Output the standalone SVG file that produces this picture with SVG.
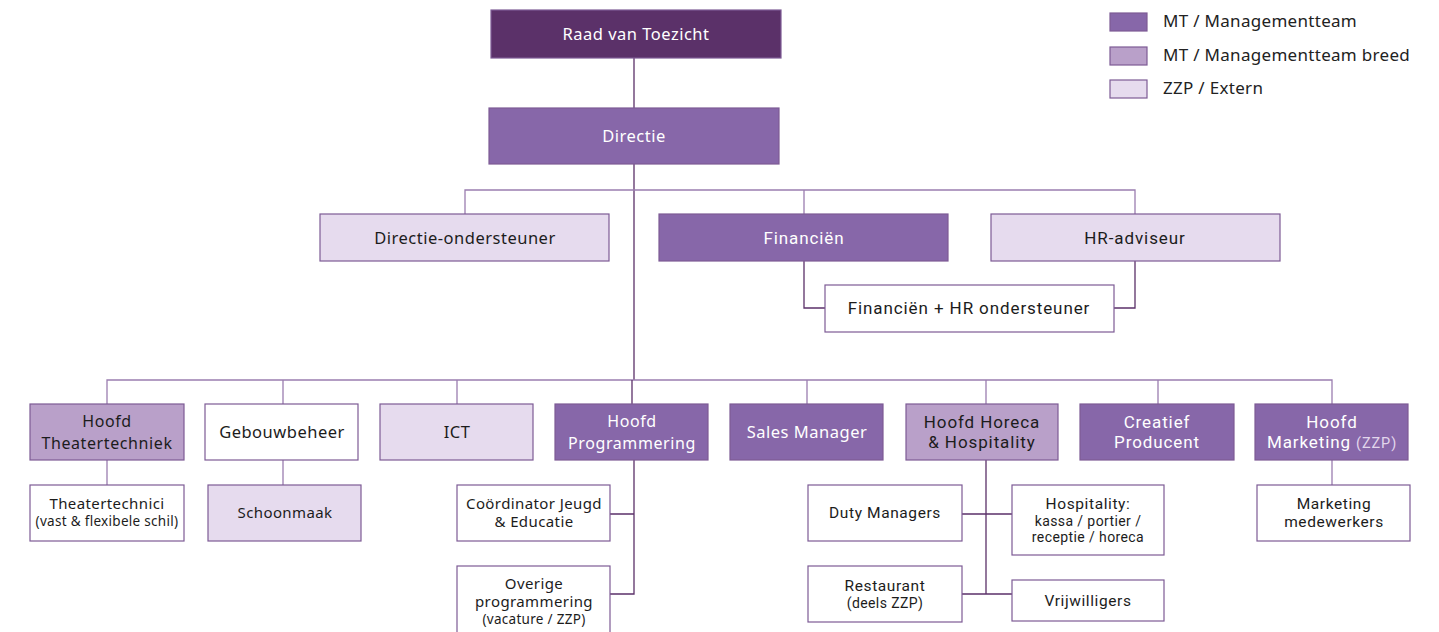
<svg xmlns="http://www.w3.org/2000/svg" width="1439" height="632" viewBox="0 0 1439 632">
<style>
.b{stroke:#7d5b95;stroke-width:1.2}
.d{fill:#8767a9}
.m{fill:#b9a0c9}
.l{fill:#e6dbee}
.w{fill:#ffffff}
.x{fill:#5b3169}
text{font-family:"Noto Sans","Open Sans",sans-serif;font-size:16.5px;letter-spacing:0.5px;text-anchor:middle;fill:#1c1c1c}
.t{fill:#ffffff}
.two{font-size:16px;letter-spacing:0.6px}
.s{font-size:15px;letter-spacing:0.4px}
.ss{font-size:13.5px;letter-spacing:0.3px}
.c{font-family:Roboto,"Liberation Sans",sans-serif;font-size:17px;letter-spacing:0.9px}
.c.s{font-size:15.5px;letter-spacing:0.6px}
.c.ss{font-size:14px;letter-spacing:0.4px}
.lg{text-anchor:start;font-size:17px;letter-spacing:0.3px;fill:#222}
.ln{fill:none;stroke:#9b7db0;stroke-width:1.3}
.tr{fill:none;stroke:#5b3169;stroke-width:1.3}
</style>
<rect width="1439" height="632" fill="#ffffff"/>
<g id="connectors">
<path class="tr" d="M634 58V108M634 164V380"/>
<path class="ln" d="M465 214V190H1135V214M804 190V214"/>
<path class="tr" d="M804 261V308H825M1135 261V308H1114"/>
<path class="ln" d="M107 404V380H1332V404M283 380V404M457 380V404M807 380V404M986 380V404M1158 380V404"/>
<path class="tr" d="M632 380V404"/>
<path class="ln" d="M107 460V485M283 460V485M1332 460V485"/>
<path class="tr" d="M634 460V594H610M610 514H634"/>
<path class="tr" d="M986 460V594M962 514H1012M962 594H1012"/>
</g>
<g id="raad"><rect class="b x" x="491" y="10" width="290" height="48"/><text class="t" x="636" y="40">Raad van Toezicht</text></g>
<g id="directie"><rect class="b d" x="489" y="108" width="290" height="56"/><text class="t" x="634" y="142">Directie</text></g>
<g id="directie-ondersteuner"><rect class="b l" x="320" y="214" width="289" height="47"/><text x="465" y="244">Directie-ondersteuner</text></g>
<g id="financien"><rect class="b d" x="659" y="214" width="289" height="47"/><text class="t c" x="804" y="244">Financiën</text></g>
<g id="hr-adviseur"><rect class="b l" x="991" y="214" width="289" height="47"/><text class="c" x="1135" y="244">HR-adviseur</text></g>
<g id="fin-hr-ondersteuner"><rect class="b w" x="825" y="285" width="289" height="47"/><text class="c" x="969" y="314">Financiën + HR ondersteuner</text></g>
<g id="hoofd-theatertechniek"><rect class="b m" x="30" y="404" width="154" height="56"/><text class="two" x="107" y="427">Hoofd</text><text class="two" x="107" y="449">Theatertechniek</text></g>
<g id="gebouwbeheer"><rect class="b w" x="205" y="404" width="153" height="56"/><text x="282" y="438">Gebouwbeheer</text></g>
<g id="ict"><rect class="b l" x="380" y="404" width="153" height="56"/><text x="457" y="438">ICT</text></g>
<g id="hoofd-programmering"><rect class="b d" x="555" y="404" width="153" height="56"/><text class="t two" x="632" y="427">Hoofd</text><text class="t two" x="632" y="449">Programmering</text></g>
<g id="sales-manager"><rect class="b d" x="730" y="404" width="153" height="56"/><text class="t" x="807" y="438">Sales Manager</text></g>
<g id="hoofd-horeca"><rect class="b m" x="906" y="404" width="152" height="56"/><text class="c" x="982" y="428">Hoofd Horeca</text><text class="c" x="982" y="448">&amp; Hospitality</text></g>
<g id="creatief-producent"><rect class="b d" x="1080" y="404" width="154" height="56"/><text class="t c" x="1157" y="428">Creatief</text><text class="t c" x="1157" y="448">Producent</text></g>
<g id="hoofd-marketing"><rect class="b d" x="1255" y="404" width="153" height="56"/><text class="t c" x="1332" y="428">Hoofd</text><text class="t c" x="1332" y="448">Marketing <tspan font-size="14.5" fill="#e2d6ec">(ZZP)</tspan></text></g>
<g id="theatertechnici"><rect class="b w" x="30" y="485" width="154" height="56"/><text class="s" x="107" y="509">Theatertechnici</text><text class="ss" x="107" y="526">(vast &amp; flexibele schil)</text></g>
<g id="schoonmaak"><rect class="b l" x="208" y="485" width="153" height="56"/><text class="s" x="285" y="518">Schoonmaak</text></g>
<g id="coordinator"><rect class="b w" x="457" y="485" width="153" height="56"/><text class="s" x="534" y="509">Coördinator Jeugd</text><text class="s" x="534" y="527">&amp; Educatie</text></g>
<g id="overige"><rect class="b w" x="457" y="566" width="153" height="70"/><text class="s" x="534" y="589">Overige</text><text class="s" x="534" y="607">programmering</text><text class="ss" x="534" y="624">(vacature / ZZP)</text></g>
<g id="duty-managers"><rect class="b w" x="808" y="485" width="154" height="56"/><text class="s c" x="885" y="518">Duty Managers</text></g>
<g id="hospitality"><rect class="b w" x="1012" y="485" width="152" height="70"/><text class="s c" x="1088" y="509">Hospitality:</text><text class="ss c" x="1088" y="526">kassa / portier /</text><text class="ss c" x="1088" y="542">receptie / horeca</text></g>
<g id="restaurant"><rect class="b w" x="808" y="566" width="154" height="56"/><text class="s c" x="885" y="591">Restaurant</text><text class="ss c" x="885" y="608">(deels ZZP)</text></g>
<g id="vrijwilligers"><rect class="b w" x="1012" y="580" width="152" height="41"/><text class="s c" x="1088" y="606">Vrijwilligers</text></g>
<g id="marketing-medewerkers"><rect class="b w" x="1257" y="485" width="153" height="56"/><text class="s c" x="1334" y="509">Marketing</text><text class="s c" x="1334" y="527">medewerkers</text></g>
<g id="legend">
<rect class="b d" x="1110" y="13" width="37" height="18"/><text class="lg" x="1163" y="27">MT / Managementteam</text>
<rect class="b m" x="1110" y="47" width="37" height="18"/><text class="lg" x="1163" y="61">MT / Managementteam breed</text>
<rect class="b l" x="1110" y="80" width="37" height="18"/><text class="lg" x="1163" y="94">ZZP / Extern</text>
</g>
</svg>
